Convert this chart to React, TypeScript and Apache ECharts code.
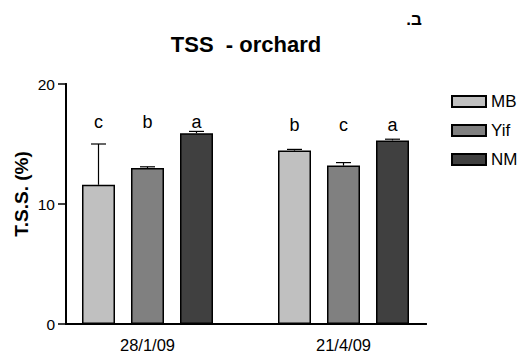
import React, { useEffect, useRef } from "react";
import * as echarts from "echarts";

const categories = ["28/1/09", "21/4/09"];
const seriesNames = ["MB", "Yif", "NM"];
const mbValues = [11.6, 14.45];
const yifValues = [13.0, 13.2];
const nmValues = [15.9, 15.3];
const mbErrors = [3.4, 0.1];
const yifErrors = [0.1, 0.25];
const nmErrors = [0.15, 0.1];
const mbLetters = ["c", "b"];
const yifLetters = ["b", "c"];
const nmLetters = ["a", "a"];
const letterLevels = [16.85, 16.6];
const yTicks = [0, 10, 20];
const colors = ["#c0c0c0", "#808080", "#404040"];

const FONT = "Liberation Sans, Arial, Helvetica, sans-serif";
const BAR_W = 33;
const BAR_GAP = 16;

export default function App() {
  const ref = useRef<HTMLDivElement>(null);
  useEffect(() => {
    document.body.style.margin = "0";
    const chart = echarts.init(ref.current!, null, { renderer: "svg" });
    const values = [mbValues, yifValues, nmValues];
    const errors = [mbErrors, yifErrors, nmErrors];
    const letters = [mbLetters, yifLetters, nmLetters];
    const errData: any[] = [];
    const letterData: any[] = [];
    values.forEach((vals, s) => {
      vals.forEach((v, c) => {
        errData.push([c, s, v, errors[s][c]]);
        letterData.push([c, s, letterLevels[c], letters[s][c]]);
      });
    });
    const offsetOf = (s: number) => (s - 1) * (BAR_W + BAR_GAP);
    const frameLine = { show: true, lineStyle: { color: "#000", width: 2 } };
    chart.setOption({
      animation: false,
      textStyle: { fontFamily: FONT },
      legend: {
        data: seriesNames,
        orient: "vertical",
        left: 451,
        top: 93,
        itemWidth: 34,
        itemHeight: 11,
        itemGap: 12,
        icon: "rect",
        padding: 0,
        textStyle: { fontFamily: FONT, fontSize: 17, color: "#000" },
      },
      graphic: [
        {
          type: "text",
          x: 246,
          y: 44,
          style: {
            text: "TSS  - orchard",
            font: `bold 22px ${FONT}`,
            fill: "#000",
            textAlign: "center",
            textVerticalAlign: "middle",
          },
        },
        {
          type: "text",
          x: 414,
          y: 19,
          style: {
            text: "ב.\u200F",
            font: `bold 17px ${FONT}`,
            fill: "#000",
            textAlign: "center",
            textVerticalAlign: "middle",
          },
        },
        {
          type: "text",
          x: 21,
          y: 194,
          rotation: Math.PI / 2,
          style: {
            text: "T.S.S. (%)",
            font: `bold 19px ${FONT}`,
            fill: "#000",
            textAlign: "center",
            textVerticalAlign: "middle",
          },
        },
      ],
      grid: [
        { left: 66, top: 84, width: 360, height: 240 },
        { left: 49.5, top: 84, width: 392, height: 240 },
      ],
      xAxis: [
        {
          gridIndex: 0,
          type: "value",
          min: 0,
          max: 1,
          position: "bottom",
          axisLine: frameLine,
          axisTick: { show: false },
          axisLabel: { show: false },
          splitLine: { show: false },
        },
        {
          gridIndex: 1,
          type: "category",
          data: categories,
          axisLine: { show: false },
          axisTick: { show: false },
          axisLabel: { fontSize: 16.5, color: "#000", margin: 12, fontFamily: FONT },
        },
        {
          gridIndex: 0,
          type: "value",
          min: 0,
          max: 1,
          position: "top",
          axisLine: frameLine,
          axisTick: { show: false },
          axisLabel: { show: false },
          splitLine: { show: false },
        },
      ],
      yAxis: [
        {
          gridIndex: 0,
          type: "value",
          min: yTicks[0],
          max: yTicks[yTicks.length - 1],
          interval: 10,
          position: "left",
          splitLine: { show: false },
          axisLine: frameLine,
          axisTick: { show: true, length: 8, lineStyle: { color: "#000", width: 1.5 } },
          axisLabel: { fontSize: 15.5, color: "#000", margin: 11, fontFamily: FONT },
        },
        {
          gridIndex: 1,
          type: "value",
          min: 0,
          max: 20,
          show: false,
          splitLine: { show: false },
        },
        {
          gridIndex: 0,
          type: "value",
          min: 0,
          max: 20,
          position: "right",
          axisLine: frameLine,
          axisTick: { show: false },
          axisLabel: { show: false },
          splitLine: { show: false },
        },
      ],
      series: [
        ...seriesNames.map((name, s) => ({
          name,
          type: "bar",
          xAxisIndex: 1,
          yAxisIndex: 1,
          data: values[s],
          barWidth: BAR_W,
          barGap: `${(BAR_GAP / BAR_W) * 100}%`,
          itemStyle: { color: colors[s], borderColor: "#000", borderWidth: 1.5 },
        })),
        {
          type: "custom",
          xAxisIndex: 1,
          yAxisIndex: 1,
          data: errData,
          encode: { x: 0, y: 2 },
          z: 3,
          renderItem: (params: any, api: any) => {
            const c = api.value(0);
            const s = api.value(1);
            const v = api.value(2);
            const e = api.value(3);
            const base = api.coord([c, v]);
            const top = api.coord([c, v + e]);
            const x = base[0] + offsetOf(s);
            return {
              type: "group",
              children: [
                {
                  type: "line",
                  shape: { x1: x, y1: base[1], x2: x, y2: top[1] },
                  style: { stroke: "#000", lineWidth: 1.2 },
                },
                {
                  type: "line",
                  shape: { x1: x - 7.5, y1: top[1], x2: x + 7.5, y2: top[1] },
                  style: { stroke: "#000", lineWidth: 1.2 },
                },
              ],
            };
          },
        },
        {
          type: "custom",
          xAxisIndex: 1,
          yAxisIndex: 1,
          data: letterData,
          encode: { x: 0, y: 2 },
          z: 3,
          renderItem: (params: any, api: any) => {
            const c = api.value(0);
            const s = api.value(1);
            const p = api.coord([c, api.value(2)]);
            return {
              type: "text",
              x: p[0] + offsetOf(s),
              y: p[1],
              style: {
                text: letterData[params.dataIndex][3],
                font: `18px ${FONT}`,
                fill: "#000",
                textAlign: "center",
                textVerticalAlign: "middle",
              },
            };
          },
        },
      ],
    });
    return () => chart.dispose();
  }, []);
  return (
    <div
      ref={ref}
      style={{ position: "absolute", left: 0, top: 0, width: 522, height: 354 }}
    />
  );
}
